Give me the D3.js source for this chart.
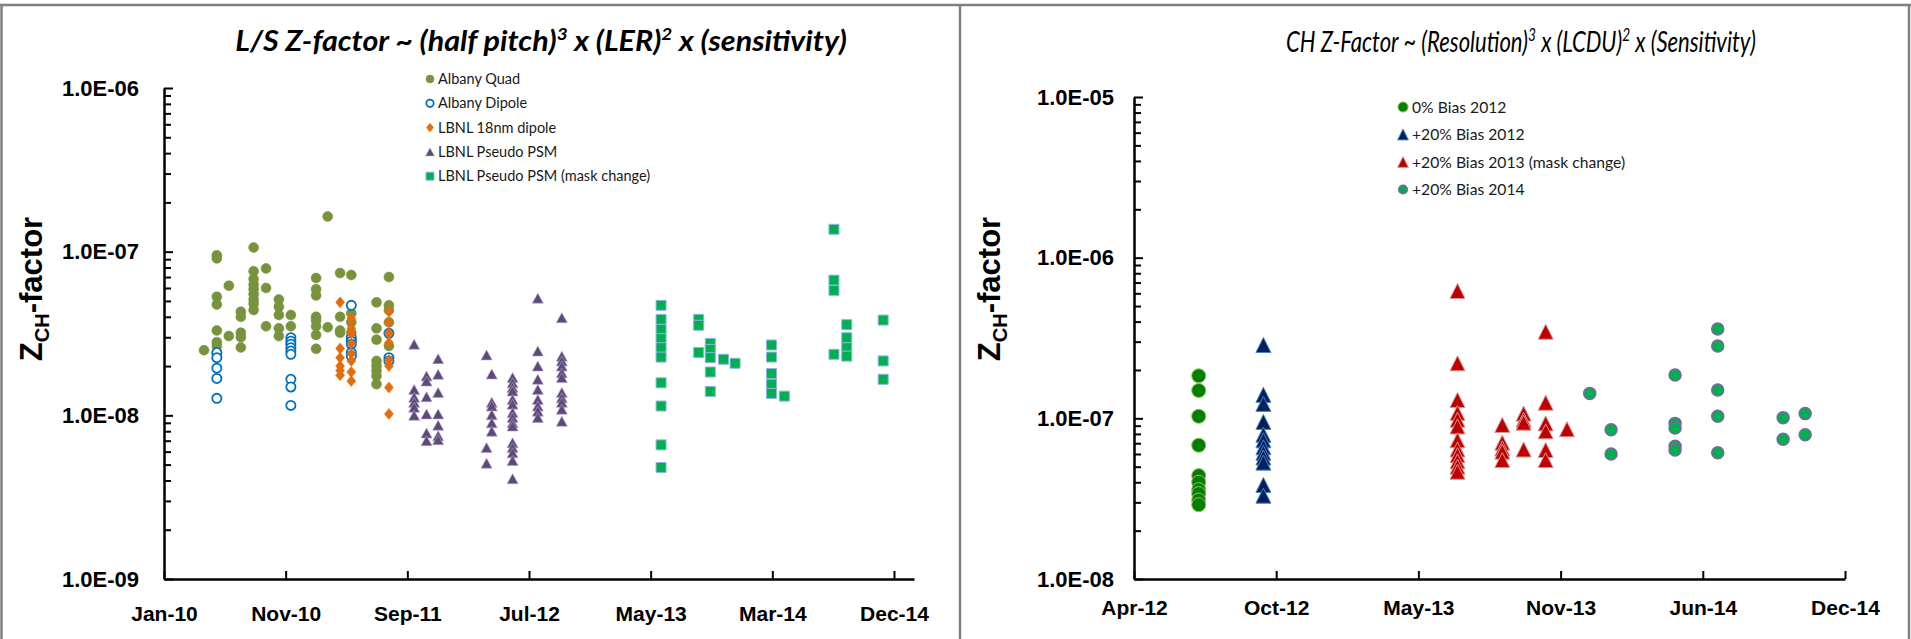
<!DOCTYPE html>
<html>
<head>
<meta charset="utf-8">
<script src="https://cdn.jsdelivr.net/npm/d3@7"></script>
<style>
  body { margin: 0; background: #fff; }
  svg { display: block; }
</style>
</head>
<body>
<svg id="chart" width="1911" height="639"></svg>
<script>
// ---------- data : [date, [Z values measured that day]] ----------
// left chart, line/space
const albanyQuad = [
  ["2010-04-11", [2.5e-8]],
  ["2010-05-13", [9.5e-8, 9.1e-8, 5.3e-8, 4.75e-8, 3.3e-8, 2.8e-8, 2.65e-8, 2.4e-8]],
  ["2010-06-12", [6.2e-8, 3.05e-8]],
  ["2010-07-12", [4.3e-8, 4.0e-8, 3.2e-8, 3.0e-8, 2.6e-8]],
  ["2010-08-13", [1.06e-7, 7.6e-8, 6.8e-8, 6.3e-8, 5.9e-8, 5.5e-8, 5.1e-8, 4.8e-8, 4.4e-8]],
  ["2010-09-13", [7.9e-8, 6.0e-8, 3.5e-8]],
  ["2010-10-15", [5.1e-8, 4.6e-8, 4.1e-8, 3.4e-8, 3.05e-8]],
  ["2010-11-14", [4.1e-8, 3.5e-8]],
  ["2011-01-16", [6.9e-8, 5.9e-8, 5.4e-8, 4.0e-8, 3.8e-8, 3.5e-8, 3.1e-8, 2.55e-8]],
  ["2011-02-14", [1.64e-7, 3.45e-8]],
  ["2011-03-17", [7.4e-8, 4.0e-8, 3.3e-8, 3.2e-8]],
  ["2011-04-14", [7.2e-8, 4.2e-8, 3.7e-8, 3.2e-8]],
  ["2011-06-16", [4.9e-8, 3.4e-8, 2.9e-8, 2.15e-8, 2.0e-8, 1.87e-8, 1.74e-8, 1.55e-8]],
  ["2011-07-17", [7.0e-8, 4.7e-8, 4.4e-8, 3.7e-8, 2.65e-8]]
]
const albanyDipole = [
  ["2010-05-13", [2.42e-8, 2.25e-8, 1.94e-8, 1.68e-8, 1.27e-8]],
  ["2010-11-14", [2.98e-8, 2.84e-8, 2.72e-8, 2.59e-8, 2.47e-8, 2.36e-8, 1.66e-8, 1.49e-8, 1.15e-8]],
  ["2011-04-14", [4.7e-8, 2.98e-8, 2.84e-8, 2.72e-8, 2.42e-8, 2.3e-8]],
  ["2011-07-17", [3.17e-8, 2.25e-8, 2.15e-8]]
]
const lbnl18nm = [
  ["2011-03-17", [4.9e-8, 2.56e-8, 2.25e-8, 2.0e-8, 1.88e-8, 1.76e-8]],
  ["2011-04-14", [3.9e-8, 3.4e-8, 3.17e-8, 2.75e-8, 2.38e-8, 2.15e-8, 1.84e-8, 1.62e-8]],
  ["2011-07-17", [4.3e-8, 3.7e-8, 3.17e-8, 2.78e-8, 2.18e-8, 2.0e-8, 1.48e-8, 1.02e-8]]
]
const lbnlPsm = [
  ["2011-09-18", [2.72e-8, 1.44e-8, 1.29e-8, 1.2e-8, 1.12e-8, 1.0e-8]],
  ["2011-10-19", [1.74e-8, 1.62e-8, 1.3e-8, 1.02e-8, 7.8e-9, 7.0e-9]],
  ["2011-11-17", [2.22e-8, 1.78e-8, 1.38e-8, 1.02e-8, 8.7e-9, 7.5e-9, 7.1e-9]],
  ["2012-03-17", [2.34e-8, 6.35e-9, 5.1e-9]],
  ["2012-03-30", [1.79e-8, 1.2e-8, 1.14e-8, 1.01e-8, 9.0e-9, 8.0e-9]],
  ["2012-05-21", [1.7e-8, 1.58e-8, 1.48e-8, 1.41e-8, 1.25e-8, 1.17e-8, 1.04e-8, 9.7e-9, 9.0e-9, 8.6e-9, 6.8e-9, 6.35e-9, 5.9e-9, 5.3e-9, 4.1e-9]],
  ["2012-07-23", [5.2e-8, 2.47e-8, 2.0e-8, 1.66e-8, 1.44e-8, 1.25e-8, 1.14e-8, 1.06e-8, 9.7e-9]],
  ["2012-09-21", [3.95e-8, 2.3e-8, 2.15e-8, 2.0e-8, 1.82e-8, 1.7e-8, 1.38e-8, 1.28e-8, 1.2e-8, 1.09e-8, 9.2e-9]]
]
const lbnlPsmMask = [
  ["2013-05-27", [4.7e-8, 3.86e-8, 3.35e-8, 2.94e-8, 2.59e-8, 2.27e-8, 1.58e-8, 1.14e-8, 6.6e-9, 4.8e-9]],
  ["2013-08-29", [3.86e-8, 3.55e-8, 2.42e-8]],
  ["2013-09-27", [2.75e-8, 2.53e-8, 2.25e-8, 1.84e-8, 1.4e-8]],
  ["2013-10-30", [2.2e-8]],
  ["2013-11-28", [2.08e-8]],
  ["2014-02-27", [2.69e-8, 2.27e-8, 1.8e-8, 1.55e-8, 1.36e-8]],
  ["2014-03-31", [1.31e-8]],
  ["2014-08-02", [1.37e-7, 6.7e-8, 5.8e-8, 2.36e-8]],
  ["2014-09-03", [3.58e-8, 2.98e-8, 2.59e-8, 2.3e-8]],
  ["2014-12-03", [3.82e-8, 2.15e-8, 1.66e-8]]
]
// right chart, contact holes
const bias0_2012 = [
  ["2012-07-01", [1.84e-7, 1.49e-7, 1.03e-7, 6.8e-8, 4.4e-8, 4.0e-8, 3.6e-8, 3.4e-8, 3.1e-8, 2.9e-8]]
]
const bias20_2012 = [
  ["2012-09-30", [2.86e-7, 1.4e-7, 1.23e-7, 9.5e-8, 7.9e-8, 7.3e-8, 6.6e-8, 6.1e-8, 5.7e-8, 5.3e-8, 3.85e-8, 3.3e-8]]
]
const bias20_2013 = [
  ["2013-06-30", [6.2e-7, 2.2e-7, 1.3e-7, 1.08e-7, 9.8e-8, 8.9e-8, 7.3e-8, 6.4e-8, 5.9e-8, 5.4e-8, 5.0e-8, 4.65e-8]],
  ["2013-09-01", [9.1e-8, 7.05e-8, 6.5e-8, 6.2e-8, 5.5e-8]],
  ["2013-10-01", [1.07e-7, 9.8e-8, 9.4e-8, 6.4e-8]],
  ["2013-11-01", [3.46e-7, 1.25e-7, 9.3e-8, 8.3e-8, 6.35e-8, 5.5e-8]],
  ["2013-12-01", [8.55e-8]]
]
const bias20_2014 = [
  ["2014-01-02", [1.43e-7]],
  ["2014-02-01", [8.5e-8, 6.0e-8]],
  ["2014-05-02", [1.86e-7, 9.3e-8, 8.7e-8, 6.7e-8, 6.35e-8]],
  ["2014-07-01", [3.6e-7, 2.82e-7, 1.5e-7, 1.03e-7, 6.1e-8]],
  ["2014-10-01", [1.01e-7, 7.4e-8]],
  ["2014-11-01", [1.07e-7, 7.9e-8]]
]

// tick dates (Excel date axis, fixed day steps)
const leftXTicks = ["2010-01-01", "2010-11-01", "2011-09-01", "2012-07-01", "2013-05-01", "2014-03-01", "2014-12-30"]
const rightXTicks = ["2012-04-01", "2012-10-18", "2013-05-06", "2013-11-22", "2014-06-10", "2014-12-27"]
const leftYDecades = [1e-9, 1e-8, 1e-7, 1e-6]
const rightYDecades = [1e-8, 1e-7, 1e-6, 1e-5]

const leftNames = ["Albany Quad", "Albany Dipole", "LBNL 18nm dipole", "LBNL Pseudo PSM", "LBNL Pseudo PSM (mask change)"]
const rightNames = ["0% Bias 2012", "+20% Bias 2012", "+20% Bias 2013 (mask change)", "+20% Bias 2014"]

// ---------- helpers ----------
const svg = d3.select("#chart")
const parse = d3.utcParse("%Y-%m-%d")
const fmtX = d3.utcFormat("%b-%y")
const fmtY = v => "1.0E-" + String(Math.round(-Math.log10(v))).padStart(2, "0")
const AX_FONT = "'Liberation Sans', Arial, sans-serif"
const TXT_FONT = "Lato, 'Open Sans', sans-serif"

function shape(m, k) {
  k = k || 1
  if (m.type === "circle") {
    const r = m.r * k
    return `M${r},0A${r},${r} 0 1,1 ${-r},0A${r},${r} 0 1,1 ${r},0Z`
  }
  if (m.type === "square") {
    const s = m.s * k
    return `M${-s},${-s}H${s}V${s}H${-s}Z`
  }
  if (m.type === "diamond") {
    const w = m.w * k, h = m.h * k
    return `M0,${-h}L${w},0L0,${h}L${-w},0Z`
  }
  const w = m.w * k, h = m.h * k
  return `M0,${-h}L${w},${h}L${-w},${h}Z`
}

function minorTicks(decades) {
  const out = []
  decades.slice(0, -1).forEach(d => { for (let i = 2; i < 10; i++) out.push(i * d) })
  return out
}

function drawChart(c) {
  const g = svg.append("g")
  const x = d3.scaleUtc().domain([parse(c.xDomain[0]), parse(c.xDomain[1])]).range([c.left, c.right])
  const y = d3.scaleLog().domain([c.yDecades[0], c.yDecades[c.yDecades.length - 1]]).range([c.bottom, c.top])

  // minor log ticks
  g.append("g")
    .attr("transform", `translate(${c.left},0)`)
    .call(d3.axisLeft(y).tickValues(minorTicks(c.yDecades)).tickFormat("").tickSizeInner(-7).tickSizeOuter(0))
    .call(a => a.select(".domain").remove())
    .call(a => a.selectAll("line").attr("stroke", "#000").attr("stroke-width", 2))

  const yAx = g.append("g")
    .attr("transform", `translate(${c.left},0)`)
    .call(d3.axisLeft(y).tickValues(c.yDecades).tickFormat(fmtY).tickSizeInner(-9).tickSizeOuter(0).tickPadding(c.yPad))
  yAx.select(".domain").attr("stroke", "#000").attr("stroke-width", 2.5)
  yAx.selectAll(".tick line").attr("stroke", "#000").attr("stroke-width", 2)
  yAx.selectAll("text").attr("font-family", AX_FONT).attr("font-weight", "bold")
    .attr("font-size", 22).attr("fill", "#000")

  const xAx = g.append("g")
    .attr("transform", `translate(0,${c.bottom})`)
    .call(d3.axisBottom(x).tickValues(c.xTicks.map(parse)).tickFormat(fmtX).tickSizeInner(-8).tickSizeOuter(0).tickPadding(c.xPad))
  xAx.select(".domain").attr("stroke", "#000").attr("stroke-width", 2.5)
  xAx.selectAll(".tick line").attr("stroke", "#000").attr("stroke-width", 2)
  xAx.selectAll("text").attr("font-family", AX_FONT).attr("font-weight", "bold")
    .attr("font-size", 21).attr("fill", "#000")

  // y title  Z_CH-factor
  const yt = g.append("text")
    .attr("transform", `translate(${c.yTitleX},${c.yTitleY}) rotate(-90)`)
    .attr("text-anchor", "middle")
    .attr("font-family", AX_FONT).attr("font-weight", "bold").attr("font-size", 31).attr("fill", "#000")
  yt.append("tspan").text("Z")
  yt.append("tspan").text("CH").attr("font-size", 20).attr("dy", 7)
  yt.append("tspan").text("-factor").attr("dy", -7)

  // points
  c.series.forEach(s => {
    const pts = s.data.flatMap(([d, vals]) => vals.map(v => ({ date: parse(d), z: v })))
    g.append("g").selectAll("path")
      .data(pts)
      .join("path")
      .attr("d", shape(s.marker))
      .attr("transform", d => `translate(${x(d.date)},${y(d.z)})`)
      .attr("fill", s.marker.fill)
      .attr("stroke", s.marker.stroke)
      .attr("stroke-width", s.marker.sw)
  })

  // legend
  const lg = g.append("g").attr("transform", `translate(${c.legend.x},${c.legend.y})`)
  c.series.forEach((s, i) => {
    const row = lg.append("g").attr("transform", `translate(0,${i * c.legend.step})`)
    row.append("path").attr("d", shape(s.marker, c.legend.k))
      .attr("fill", s.marker.fill).attr("stroke", s.marker.stroke).attr("stroke-width", s.marker.sw)
    row.append("text").attr("x", c.legend.tx).attr("dy", "0.35em")
      .attr("font-family", TXT_FONT).attr("font-size", c.legend.fs).attr("fill", "#1a1a1a")
      .text(c.names[i])
  })

  // title with superscripts, squeezed horizontally to the width the original takes
  const tg = g.append("g")
  const t = tg.append("text")
    .attr("x", c.titleX).attr("y", c.titleY).attr("text-anchor", "middle")
    .attr("font-family", TXT_FONT).attr("font-style", "italic")
    .attr("font-weight", c.titleWeight).attr("font-size", c.titleSize).attr("fill", "#000")
  const shift = c.titleSize * 0.38
  c.title.forEach(([str, sup], i) => {
    const ts = t.append("tspan").text(str)
    if (sup) ts.attr("font-size", c.titleSize * 0.62).attr("dy", -shift)
    else if (i > 0) ts.attr("dy", shift)
  })
  const w = t.node().getComputedTextLength()
  const sx = c.titleWidth / w
  tg.attr("transform", `translate(${c.titleX},0) scale(${sx},1) translate(${-c.titleX},0)`)
}

// ---------- frame ----------
const frame = svg.append("g").attr("stroke", "#808080").attr("stroke-width", 2.5)
frame.append("line").attr("x1", 0).attr("x2", 1911).attr("y1", 5).attr("y2", 5)
frame.append("line").attr("x1", 1.5).attr("x2", 1.5).attr("y1", 5).attr("y2", 639)
frame.append("line").attr("x1", 960).attr("x2", 960).attr("y1", 5).attr("y2", 639)
frame.append("line").attr("x1", 1909).attr("x2", 1909).attr("y1", 5).attr("y2", 639)

// ---------- left chart ----------
drawChart({
  left: 164, right: 914, top: 88, bottom: 579,
  xDomain: ["2010-01-01", "2015-02-18"], xTicks: leftXTicks, yDecades: leftYDecades,
  yPad: 25, xPad: 27, yTitleX: 42, yTitleY: 289,
  names: leftNames,
  legend: { x: 430, y: 79, step: 24.3, tx: 8, fs: 14.5, k: 0.8 },
  titleX: 541, titleY: 51, titleSize: 28, titleWeight: "bold", titleWidth: 612,
  title: [["L/S Z-factor ~ (half pitch)", false], ["3", true], [" x (LER)", false], ["2", true], [" x (sensitivity)", false]],
  series: [
    { data: albanyQuad, marker: { type: "circle", r: 5, fill: "#77933C", stroke: "#77933C", sw: 0.5 } },
    { data: albanyDipole, marker: { type: "circle", r: 4.6, fill: "#fff", stroke: "#0070C0", sw: 1.8 } },
    { data: lbnl18nm, marker: { type: "diamond", w: 4.5, h: 5.5, fill: "#E46C0A", stroke: "#E46C0A", sw: 0.5 } },
    { data: lbnlPsm, marker: { type: "triangle", w: 5.5, h: 5, fill: "#5F497A", stroke: "#B3A2C7", sw: 0.6 } },
    { data: lbnlPsmMask, marker: { type: "square", s: 5, fill: "#00B050", stroke: "#8EB4E3", sw: 1 } }
  ]
})

// ---------- right chart ----------
drawChart({
  left: 1134, right: 1845, top: 97, bottom: 579,
  xDomain: ["2012-04-01", "2014-12-27"], xTicks: rightXTicks, yDecades: rightYDecades,
  yPad: 20, xPad: 21, yTitleX: 1000, yTitleY: 289,
  names: rightNames,
  legend: { x: 1403, y: 107, step: 27.5, tx: 9, fs: 15.7, k: 0.72 },
  titleX: 1521, titleY: 52, titleSize: 28, titleWeight: "normal", titleWidth: 470,
  title: [["CH Z-Factor ~ (Resolution)", false], ["3", true], [" x (LCDU)", false], ["2", true], [" x (Sensitivity)", false]],
  series: [
    { data: bias0_2012, marker: { type: "circle", r: 7, fill: "#008000", stroke: "#9BBB59", sw: 1 } },
    { data: bias20_2012, marker: { type: "triangle", w: 7.5, h: 7.5, fill: "#002060", stroke: "#4F81BD", sw: 1 } },
    { data: bias20_2013, marker: { type: "triangle", w: 7.5, h: 7.5, fill: "#C00000", stroke: "#D99694", sw: 1 } },
    { data: bias20_2014, marker: { type: "circle", r: 6, fill: "#00B050", stroke: "#8064A2", sw: 1.5 } }
  ]
})
</script>
</body>
</html>
